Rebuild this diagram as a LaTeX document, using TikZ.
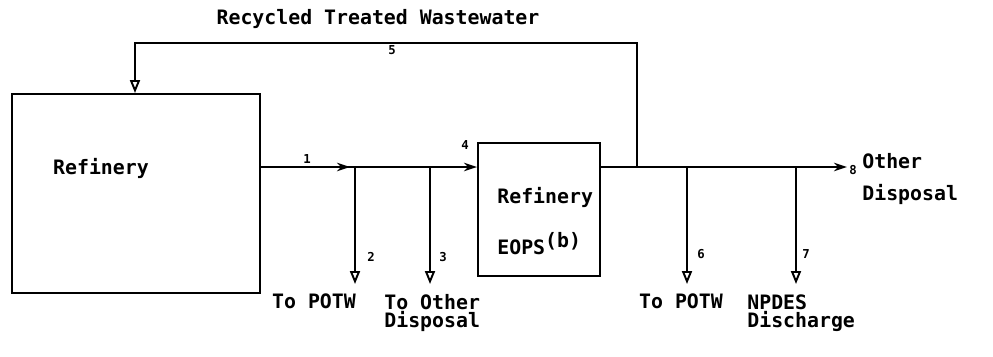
\documentclass[tikz,border=0pt]{standalone}
\usepackage{fontspec}
\setmainfont{DejaVu Sans Mono}
\usetikzlibrary{arrows.meta}

\begin{document}
\begin{tikzpicture}[every node/.style={font=\fontsize{11.3}{10.5}\selectfont\bfseries,align=left,inner sep=0pt},
   box/.style={draw,line width=1.1pt},
   flow/.style={line width=1.1pt},
   fwd/.style={flow,-{Stealth[length=0.26cm,width=0.17cm]}},
   drop/.style={flow,-{Triangle[open,length=0.26cm,width=0.2cm]}},
   num/.style={font=\fontsize{7}{8}\selectfont\bfseries}]
  \useasboundingbox (0,0) rectangle (19.86,7.12);
  % units
  \node[box,minimum width=4.96cm,minimum height=3.98cm] (ref) at (2.72,3.25) {};
  \node (reftxt) at (2.02,3.76) {Refinery};
  \node[box,minimum width=2.44cm,minimum height=2.66cm] (eops) at (10.78,2.93) {};
  \node[anchor=west] (eopstxt) at (9.94,2.70)
     {Refinery\\[0.46cm]EOPS\raisebox{0.35em}{(b)}};
  % main line
  \coordinate (out1) at (ref.east |- 0,3.78);
  \coordinate (in4) at (eops.west |- out1);
  \coordinate (out5) at (eops.east |- out1);
  \coordinate (jr) at (12.74,3.78);
  \coordinate (end8) at (16.94,3.78);
  \coordinate (top1) at (12.74,6.26);
  \coordinate (top2) at (2.70,6.26);
  \foreach \x/\n in {7.10/2,8.60/3,13.74/6,15.92/7} {
    \coordinate (j\n) at (\x,3.78);
    \coordinate (e\n) at (\x,1.44);
    \draw[drop] (j\n) -- (e\n);
  }
  \draw[fwd] (out1) -- ([xshift=-0.1cm]j2);
  \draw[fwd] (out1) -- (in4);
  \draw[fwd] (out5) -- (end8);
  \draw[drop] (jr) -- (top1) -- (top2) -- (top2 |- ref.north);
  % stream numbers
  \node[num] (n1) at (6.14,3.94) {1};
  \node[num] (n2) at (7.42,1.98) {2};
  \node[num] (n3) at (8.86,1.98) {3};
  \node[num] (n4) at (9.30,4.22) {4};
  \node[num] (n5) at (7.84,6.12) {5};
  \node[num] (n6) at (14.02,2.04) {6};
  \node[num] (n7) at (16.12,2.04) {7};
  \node[num] (n8) at (17.06,3.72) {8};
  % labels
  \node (title) at (7.56,6.74) {Recycled Treated Wastewater};
  \node[anchor=west] (other) at (17.24,3.54) {Other\\[0.28cm]Disposal};
  \node (potw1) at (6.28,1.10) {To POTW};
  \node[anchor=north west] (disp3) at (7.68,1.24) {To Other\\Disposal};
  \node (potw2) at (13.62,1.10) {To POTW};
  \node[anchor=north west] (npdes) at (14.94,1.24) {NPDES\\Discharge};
\end{tikzpicture}
\end{document}
